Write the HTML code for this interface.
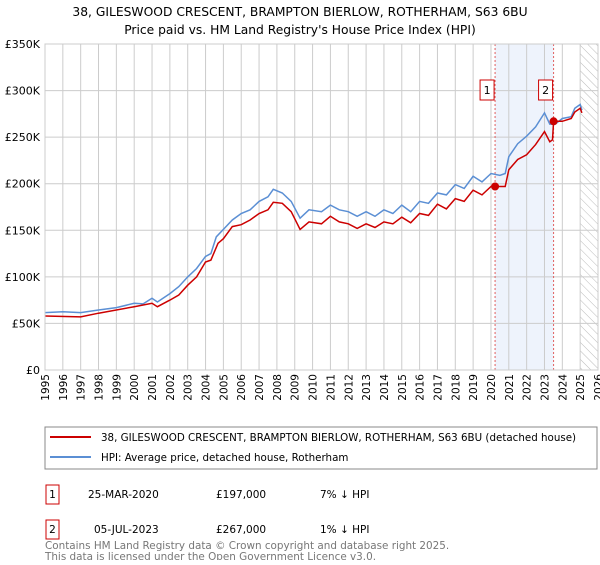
<!DOCTYPE html>
<html><head><meta charset="utf-8"><style>
body{margin:0;background:#fff;font-family:"Liberation Sans","DejaVu Sans",sans-serif;}
svg text{font-family:"DejaVu Sans","Liberation Sans",sans-serif;}
</style></head><body>
<svg width="600" height="560" xmlns="http://www.w3.org/2000/svg">
<text x="300" y="16" text-anchor="middle" font-size="12.3">38, GILESWOOD CRESCENT, BRAMPTON BIERLOW, ROTHERHAM, S63 6BU</text>
<text x="300" y="34" text-anchor="middle" font-size="12.3">Price paid vs. HM Land Registry's House Price Index (HPI)</text>
<g id="plot"></g>
<rect x="45" y="427" width="552" height="42" fill="#fff" stroke="#888"/>
<line x1="50" y1="437" x2="91" y2="437" stroke="#cc0000" stroke-width="2"/>
<text x="101" y="441" font-size="10.3">38, GILESWOOD CRESCENT, BRAMPTON BIERLOW, ROTHERHAM, S63 6BU (detached house)</text>
<line x1="50" y1="457" x2="91" y2="457" stroke="#5b8fd4" stroke-width="2"/>
<text x="101" y="461" font-size="10.3">HPI: Average price, detached house, Rotherham</text>
<g font-size="10.5">
<rect x="46" y="485" width="13" height="19" fill="none" stroke="#cc0000"/>
<text x="52.5" y="498" text-anchor="middle">1</text>
<text x="88" y="498">25-MAR-2020</text>
<text x="216" y="498">£197,000</text>
<text x="320" y="498">7% ↓ HPI</text>
<rect x="46" y="520" width="13" height="19" fill="none" stroke="#cc0000"/>
<text x="52.5" y="533" text-anchor="middle">2</text>
<text x="94" y="533">05-JUL-2023</text>
<text x="216" y="533">£267,000</text>
<text x="320" y="533">1% ↓ HPI</text>
</g>
<text x="45" y="549" font-size="10.4" fill="#777">Contains HM Land Registry data © Crown copyright and database right 2025.</text>
<text x="45" y="560" font-size="10.4" fill="#777">This data is licensed under the Open Government Licence v3.0.</text>
</svg>
<script>
const hpiYears=[1995,1996,1997,1998,1999,2000,2000.5,2001,2001.3,2002,2002.5,2003,2003.5,2004,2004.3,2004.6,2005,2005.5,2006,2006.5,2007,2007.5,2007.8,2008.3,2008.8,2009.3,2009.8,2010.5,2011,2011.5,2012,2012.5,2013,2013.5,2014,2014.5,2015,2015.5,2016,2016.5,2017,2017.5,2018,2018.5,2019,2019.5,2020,2020.5,2020.8,2021,2021.5,2022,2022.5,2023,2023.3,2023.6,2024,2024.5,2024.7,2025,2025.1];
const hpiValues=[61.6,62.6,61.6,64.4,67,71.6,71,77,73,82,89.5,100,109,122,125,143,151,161,168,172,181,186,194,190,181,163,172,170,177,172,170,165,170,165,172,168,177,170,181,179,190,188,199,195,208,202,211,209,211,229,243,251,261,276,264,264,270,272,281,285,279];
const redYears=[1995,1997,1998,2000,2001,2001.3,2002,2002.5,2003,2003.5,2004,2004.3,2004.7,2005,2005.5,2006,2006.5,2007,2007.5,2007.8,2008.3,2008.8,2009.3,2009.8,2010.5,2011,2011.5,2012,2012.5,2013,2013.5,2014,2014.5,2015,2015.5,2016,2016.5,2017,2017.5,2018,2018.5,2019,2019.5,2020,2020.23,2020.5,2020.8,2021,2021.5,2022,2022.5,2023,2023.3,2023.45,2023.51,2024,2024.5,2024.7,2025,2025.1];
const redValues=[58,57,61,68,71.6,68,75,80.5,91,100,116,118,136,141,154,156,161,168,172,180,179,170,151,159,157,165,159,157,152,157,153,159,157,164,158,168,166,178,173,184,181,193,188,197,197,197,197,215,226,231,242,256,245,247,267,267,270,277,281,276];
const saleYears=[2020.23,2023.51];
const saleValues=[197,267];
const saleLabels=["1","2"];
const yTicks=[0,50,100,150,200,250,300,350];
const xTickYears=[];for(let y=1995;y<=2026;y++)xTickYears.push(y);

const NS="http://www.w3.org/2000/svg";
const X0=45,X1=598,Y0=370,Y1=44;
const xs=y=>X0+(y-1995)*(X1-X0)/31;
const ys=v=>Y0-(v/350)*(Y0-Y1);
const g=document.getElementById('plot');
function mk(t,a){const e=document.createElementNS(NS,t);for(const k in a)e.setAttribute(k,a[k]);g.appendChild(e);return e;}
let band=mk('rect',{x:xs(saleYears[0]),y:Y1,width:xs(saleYears[1])-xs(saleYears[0]),height:Y0-Y1,fill:'#eef3fc'});


const defs=document.createElementNS(NS,'defs');defs.innerHTML='<pattern id="h" width="6" height="6" patternUnits="userSpaceOnUse" patternTransform="rotate(-45)"><line x1="0" y1="0" x2="0" y2="6" stroke="#bbb" stroke-width="1"/></pattern>';g.appendChild(defs);
let hatch=mk('rect',{x:xs(2025),y:Y1,width:X1-xs(2025),height:Y0-Y1,fill:'url(#h)'});


xTickYears.forEach(y=>{
  const l=mk('line',{x1:xs(y),x2:xs(y),y1:Y1,y2:Y0,stroke:'#ccc'});
  
  
  const t=mk('text',{x:0,y:0,'text-anchor':'end','font-size':10.5,transform:'translate('+(xs(y)+4)+',374) rotate(-90)'});
  t.textContent=y;
  
  
});
yTicks.forEach(v=>{
  const l=mk('line',{x1:X0,x2:X1,y1:ys(v),y2:ys(v),stroke:'#ccc'});
  
  
  const t=mk('text',{x:40,y:ys(v)+4,'text-anchor':'end','font-size':11});
  t.textContent=v===0?'£0':'£'+v+'K';
  
  
});
saleYears.forEach((y,i)=>{
  const l=mk('line',{x1:xs(y),x2:xs(y),y1:Y1,y2:Y0,stroke:'#e06060','stroke-dasharray':'2,2'});
  
  
});
function path(xa,va,c,name){
  const d=xa.map((y,i)=>(i?'L':'M')+xs(y).toFixed(1)+','+ys(va[i]).toFixed(1)).join('');
  const p=mk('path',{d:d,fill:'none',stroke:c,'stroke-width':1.5});
  
  
}
path(hpiYears,hpiValues,'#5b8fd4','hpi-line');
path(redYears,redValues,'#cc0000','property-price-line');
saleYears.forEach((y,i)=>{
  const c=mk('circle',{cx:xs(y),cy:ys(saleValues[i]),r:4,fill:'#cc0000'});
  
  
  const r=mk('rect',{x:xs(y)-15,y:80,width:14,height:20,fill:'#fff',stroke:'#cc0000'});
  
  
  const t=mk('text',{x:xs(y)-8,y:94,'text-anchor':'middle','font-size':11});
  t.textContent=saleLabels[i];
  
  
});
mk('rect',{x:X0,y:Y1,width:X1-X0,height:Y0-Y1,fill:'none',stroke:'#ccc'});
</script>
</body></html>
